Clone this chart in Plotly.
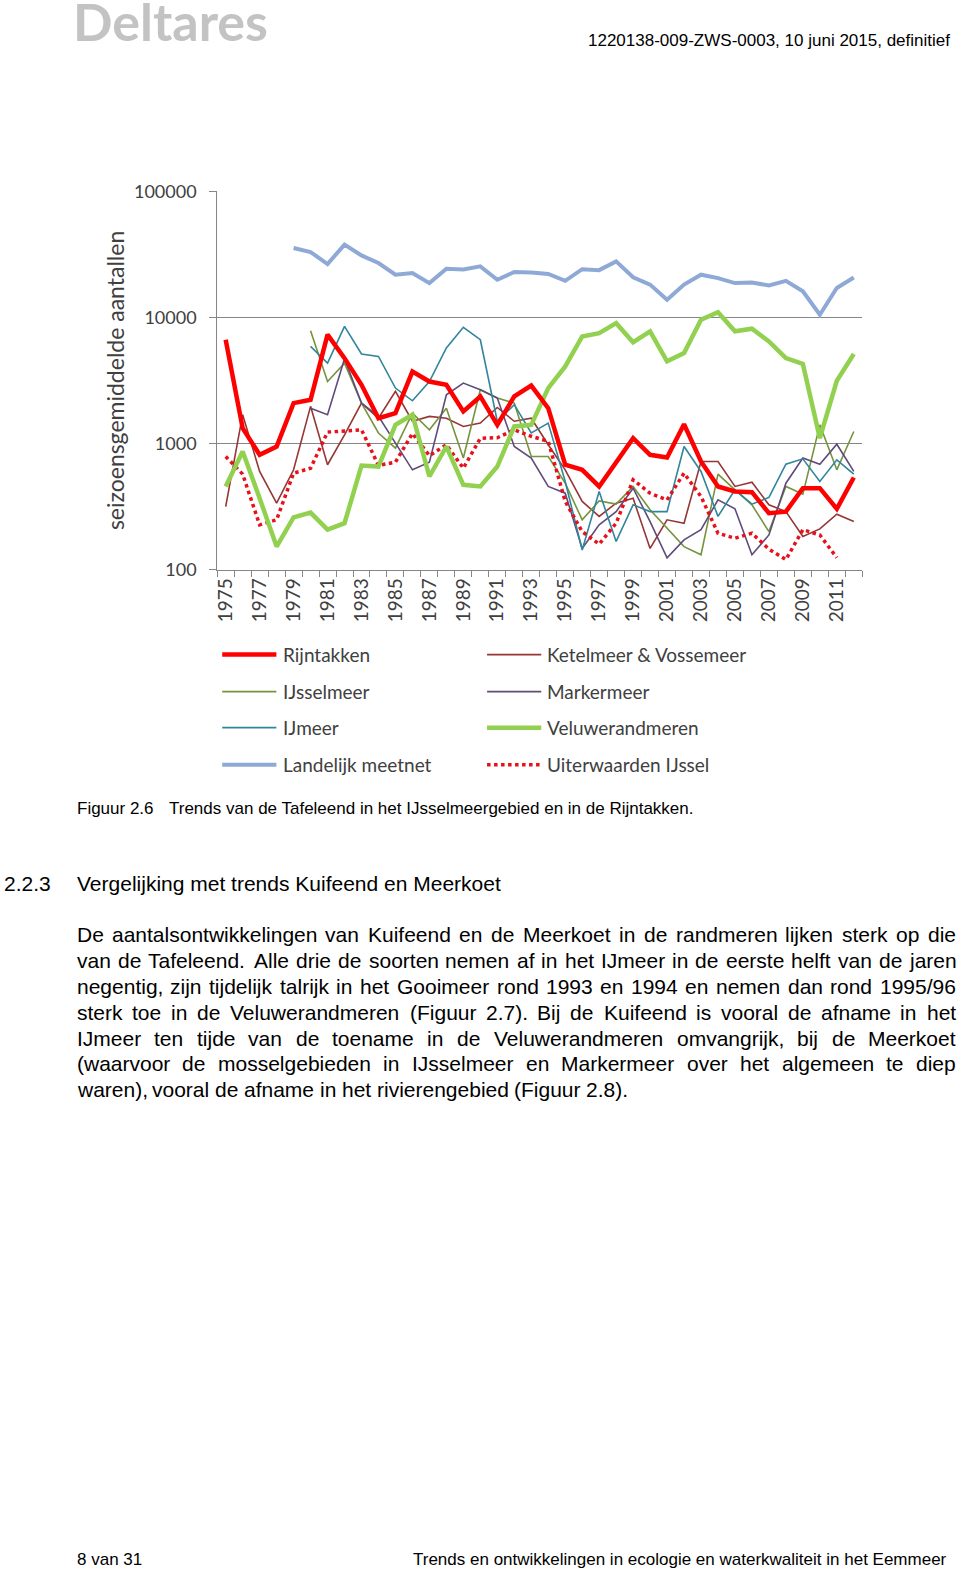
import plotly.graph_objects as go

# Seizoensgemiddelde aantallen Tafeleend, 1975-2012 (None = geen telling)
years = list(range(1975, 2013))

rijntakken = [6650, 1320, 813, 946, 2090, 2220, 7300, 4750, 2920, 1585, 1740, 3720, 3100,
              2920, 1795, 2360, 1405, 2360, 2880, 1905, 678, 618, 456, 720, 1100,
              813, 774, 1420, 720, 456, 416, 411, 280, 288, 442, 442, 303, 537]
ketelmeer = [316, 1690, 600, 336, 618, 1970, 678, 1170, 2090, 1585, 2590, 1500, 1640,
             1585, 1365, 1450, 1930, 1500, 1585, 977, 618, 347, 264, 336, 368,
             147, 248, 233, 720, 720, 456, 493, 326, 288, 183, 210, 275, 240]
ijsselmeer = [None, None, None, None, None, 7840, 3100, 4340, 2090, 1210, 918, 1740, 1285,
              1905, 766, 2670, 2290, 2090, 788, 788, 484, 248, 350, 330, 456,
              298, 213, 152, 131, 571, 429, 326, 200, 456, 396, 1405, 618, 1245]
markermeer = [None, None, None, None, None, 1905, 1690, 4700, 2090, 1640, 1005, 618, 710,
              2430, 3010, 2670, 2290, 946, 766, 456, 403, 147, 226, 288, 442,
              240, 124, 172, 207, 357, 303, 131, 188, 484, 766, 684, 986, 600]
ijmeer = [None, None, None, None, None, 5890, 4340, 8490, 5120, 4900, 2750, 2180, 3100,
          5720, 8340, 6650, 1500, 2030, 1210, 1450, 499, 143, 416, 167, 326,
          288, 288, 946, 600, 264, 429, 330, 373, 684, 755, 499, 741, 571]
veluwerandmeren = [456, 865, 368, 152, 259, 283, 207, 233, 668, 656, 1405, 1690, 547,
                   946, 470, 456, 656, 1365, 1405, 2750, 4080, 7060, 7500, 9000, 6350,
                   7750, 4480, 5210, 9600, 11000, 7750, 8130, 6450, 4750, 4270, 1100, 3140, 5120]
landelijk = [None, None, None, None, 35500, 33000, 26500, 37800, 31000, 27000, 21800, 22500, 18700,
             24300, 24000, 25400, 19900, 22900, 22700, 22100, 19500, 24100, 23700, 27800, 20800,
             18200, 13800, 18200, 21800, 20500, 18700, 18900, 17900, 19500, 16100, 10500, 17100, 20700]
uiterwaarden = [788, 571, 226, 248, 581, 636, 1230, 1260, 1285, 670, 710, 1200, 800,
                977, 636, 1100, 1110, 1285, 1140, 1040, 347, 200, 159, 233, 515,
                403, 357, 581, 379, 194, 177, 194, 145, 120, 207, 188, 124, None]

y_tickvals = [100, 1000, 10000, 100000]
x_tickvals = list(range(1975, 2012, 2))

W, H = 960, 1570
# kalibratie: de foto van de pagina komt iets verkleind rond het midden terug
SX, OX = 0.9926, 4.5
SY, OY = 0.9854, 10.8


def px(x):
    return (x - OX) / SX / W


def py(y):
    return 1 - (y - OY) / SY / H


# naam, data, kleur, dikte, stijl, legendakolom, legendarij
series = [
    ("Ketelmeer & Vossemeer", ketelmeer, "#953735", 1.6, "solid", 1, 0),
    ("IJsselmeer", ijsselmeer, "#77933C", 1.6, "solid", 0, 1),
    ("Markermeer", markermeer, "#604A7B", 1.6, "solid", 1, 1),
    ("IJmeer", ijmeer, "#31859C", 1.6, "solid", 0, 2),
    ("Landelijk meetnet", landelijk, "#8EA9D6", 4, "solid", 0, 3),
    ("Uiterwaarden IJssel", uiterwaarden, "#E8101A", 3.5, "dot", 1, 3),
    ("Veluwerandmeren", veluwerandmeren, "#92D050", 4.5, "solid", 1, 2),
    ("Rijntakken", rijntakken, "#FF0000", 4.5, "solid", 0, 0),
]

fig = go.Figure()
for name, vals, color, width, dash, col, row in series:
    fig.add_trace(go.Scatter(x=years, y=vals, name=name, mode="lines",
                             line=dict(color=color, width=width, dash=dash),
                             showlegend=False))

grey = "#868686"
chart_font = "Lato"
doc_font = "Liberation Sans, Arial"
txt = "#404040"

fig.update_xaxes(domain=[px(217), px(860)], range=[1974.5, 2012.5],
                 tickvals=x_tickvals, ticktext=[str(v) for v in x_tickvals],
                 tickangle=-90, ticks="", showgrid=False,
                 showline=True, linecolor=grey, linewidth=1,
                 tickfont=dict(family=chart_font, size=19, color=txt),
                 minor=dict(tick0=1974.5, dtick=1, ticks="outside", ticklen=6,
                            tickcolor=grey, showgrid=False))
fig.update_yaxes(type="log", domain=[py(568), py(190)], range=[2, 5],
                 tickvals=y_tickvals, ticktext=[str(v) for v in y_tickvals],
                 ticks="outside", ticklen=7, tickcolor=grey, ticklabelstandoff=9,
                 showline=True, linecolor=grey, linewidth=1,
                 showgrid=True, gridcolor=grey, gridwidth=1,
                 tickfont=dict(family=chart_font, size=18, color=txt),
                 title=dict(text="seizoensgemiddelde aantallen", standoff=2,
                            font=dict(family=chart_font, size=23, color=txt)))

shapes = []
annotations = []

# legenda in twee kolommen
leg_x = [(222, 276, 281), (486, 540, 544)]
leg_y = [653, 690, 726, 763]
for name, vals, color, width, dash, col, row in series:
    x0, x1, xt = leg_x[col]
    y = leg_y[row]
    shapes.append(dict(type="line", xref="paper", yref="paper",
                       x0=px(x0), x1=px(x1), y0=py(y), y1=py(y),
                       line=dict(color=color, width=width, dash=dash)))
    annotations.append(dict(x=px(xt), y=py(y), xref="paper", yref="paper", text=name,
                            showarrow=False, xanchor="left", yanchor="middle",
                            font=dict(family=chart_font, size=19, color=txt)))


def note(x, y, text, size, anchor="left", color="#000000", family=doc_font):
    annotations.append(dict(x=px(x), y=py(y), xref="paper", yref="paper", text=text,
                            showarrow=False, xanchor=anchor, yanchor="middle",
                            borderpad=0, font=dict(family=family, size=size, color=color)))


# kop en voet van de pagina
note(72, 20, "<b>Deltares</b>", 52, color="#C3C3C3", family="Lato")
note(948, 39, "1220138-009-ZWS-0003, 10 juni 2015, definitief", 17, anchor="right")
note(76, 807, "Figuur 2.6", 17)
note(168, 807, "Trends van de Tafeleend in het IJsselmeergebied en in de Rijntakken.", 17)
note(4, 882, "2.2.3", 21)
note(76, 882, "Vergelijking met trends Kuifeend en Meerkoet", 21)
note(76, 1557, "8 van 31", 17)
note(945, 1557, "Trends en ontwikkelingen in ecologie en waterkwaliteit in het Eemmeer", 17,
     anchor="right")

# uitgevulde alinea (breedtes volgens Arial-metriek)
char_w = dict(zip("abcdefghijklmnopqrstuvwxyz",
                  [556, 556, 500, 556, 556, 278, 556, 556, 222, 222, 500, 222, 833,
                   556, 556, 556, 556, 333, 500, 278, 556, 500, 722, 500, 500, 500]))
char_w.update(dict(zip("ABCDEFGHIJKLMNOPQRSTUVWXYZ",
                       [667, 667, 722, 722, 667, 611, 778, 722, 278, 500, 667, 556, 833,
                        722, 778, 667, 778, 722, 667, 611, 722, 667, 944, 667, 667, 611])))
char_w.update({c: 556 for c in "0123456789"})
char_w.update({" ": 278, ".": 278, ",": 278, "(": 333, ")": 333, "/": 278, "-": 333})

body = [
    "De aantalsontwikkelingen van Kuifeend en de Meerkoet in de randmeren lijken sterk op die",
    "van de Tafeleend. Alle drie de soorten nemen af in het IJmeer in de eerste helft van de jaren",
    "negentig, zijn tijdelijk talrijk in het Gooimeer rond 1993 en 1994 en nemen dan rond 1995/96",
    "sterk toe in de Veluwerandmeren (Figuur 2.7). Bij de Kuifeend is vooral de afname in het",
    "IJmeer ten tijde van de toename in de Veluwerandmeren omvangrijk, bij de Meerkoet",
    "(waarvoor de mosselgebieden in IJsselmeer en Markermeer over het algemeen te diep",
    "waren), vooral de afname in het rivierengebied (Figuur 2.8).",
]
body_size = 21


def text_width(s):
    return sum(char_w.get(c, 556) for c in s) * body_size / 1000 * SX


for k, line in enumerate(body):
    words = line.split(" ")
    y = 933 + k * 25.8
    if k < len(body) - 1:
        gap = (952 - 76 - sum(text_width(w) for w in words)) / (len(words) - 1)
    else:
        gap = text_width(" ")
    x = 76
    for w in words:
        note(x, y, w, body_size)
        x += text_width(w) + gap

fig.update_layout(width=W, height=H, autosize=False,
                  margin=dict(l=0, r=0, t=0, b=0),
                  paper_bgcolor="white", plot_bgcolor="white",
                  shapes=shapes, annotations=annotations, showlegend=False)

# pagina zonder standaardmarge, zodat de figuur precies het venster vult
fig.write_html("out.html", config={"displayModeBar": False},
               post_script="document.body.style.margin='0';document.body.style.overflow='hidden';")
